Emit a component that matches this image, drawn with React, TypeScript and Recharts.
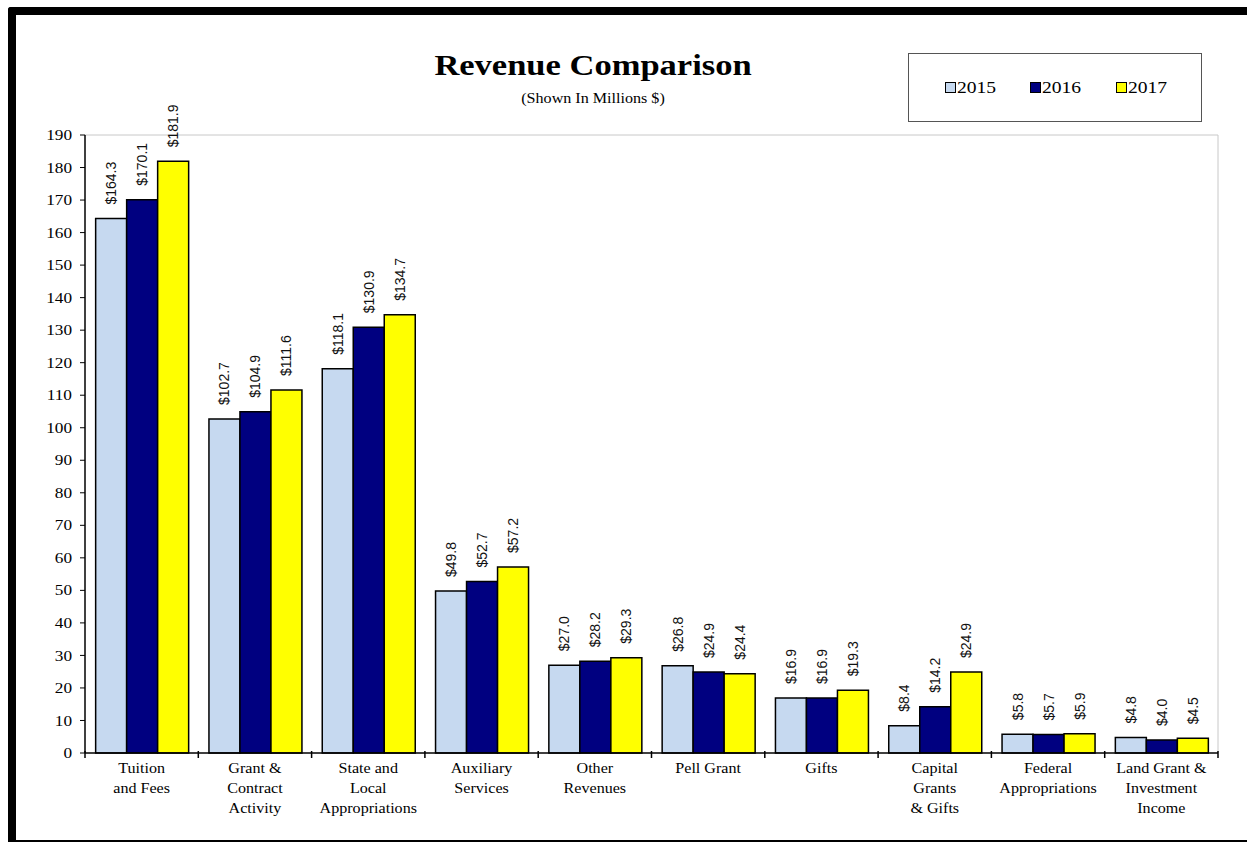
import React from 'react';
import {
  BarChart,
  Bar,
  XAxis,
  YAxis,
  CartesianGrid,
  ReferenceLine,
  LabelList,
} from 'recharts';

const CATEGORIES = [
  'Tuition\nand Fees',
  'Grant &\nContract\nActivity',
  'State and\nLocal\nAppropriations',
  'Auxiliary\nServices',
  'Other\nRevenues',
  'Pell Grant',
  'Gifts',
  'Capital\nGrants\n& Gifts',
  'Federal\nAppropriations',
  'Land Grant &\nInvestment\nIncome',
];
const Y2015 = [164.3, 102.7, 118.1, 49.8, 27.0, 26.8, 16.9, 8.4, 5.8, 4.8];
const Y2016 = [170.1, 104.9, 130.9, 52.7, 28.2, 24.9, 16.9, 14.2, 5.7, 4.0];
const Y2017 = [181.9, 111.6, 134.7, 57.2, 29.3, 24.4, 19.3, 24.9, 5.9, 4.5];
const Y_TICKS = [0, 10, 20, 30, 40, 50, 60, 70, 80, 90, 100, 110, 120, 130, 140, 150, 160, 170, 180, 190];

const SERIES = [
  { key: 'y2015', name: '2015', color: '#C6D9F0' },
  { key: 'y2016', name: '2016', color: '#000080' },
  { key: 'y2017', name: '2017', color: '#FFFF00' },
];

const data = CATEGORIES.map((name, i) => ({
  name,
  y2015: Y2015[i],
  y2016: Y2016[i],
  y2017: Y2017[i],
}));

const SERIF = '"Liberation Serif", "Times New Roman", serif';
const SANS = '"Liberation Sans", Arial, sans-serif';
// the reference is a little wider than tall, so the serif text is stretched sideways
const STRETCH = 1.15;

const CategoryTick = (props: any) => {
  const { x, y, payload, index, width, visibleTicksCount } = props;
  const lines = String(payload.value).split('\n');
  const band = Number(width) / Number(visibleTicksCount || CATEGORIES.length);
  const half = Number.isFinite(band) ? band / 2 : 0;
  return (
    <g>
      {half > 0 && (
        <line x1={x - half} x2={x - half} y1={y - 2} y2={y + 5} stroke="#000" strokeWidth={1.5} />
      )}
      {half > 0 && index === visibleTicksCount - 1 && (
        <line x1={x + half} x2={x + half} y1={y - 2} y2={y + 5} stroke="#000" strokeWidth={1.5} />
      )}
      <g transform={`translate(${x} ${y + 20}) scale(${STRETCH} 1)`}>
        <text x={0} y={0} textAnchor="middle" fontFamily={SERIF} fontSize={14} fill="#000">
          {lines.map((l, i) => (
            <tspan key={i} x={0} dy={i === 0 ? 0 : 20}>
              {l}
            </tspan>
          ))}
        </text>
      </g>
    </g>
  );
};

const ValueTick = (props: any) => {
  const { x, y, payload } = props;
  return (
    <g transform={`translate(${x} ${y}) scale(${STRETCH} 1)`}>
      <text x={0} y={0} textAnchor="end" dominantBaseline="central" fontFamily={SERIF} fontSize={15} fill="#000">
        {payload.value}
      </text>
    </g>
  );
};

const ValueLabel = (props: any) => {
  const { x, y, width, value } = props;
  const cx = x + width / 2;
  const cy = y - 14;
  return (
    <text
      x={cx}
      y={cy}
      transform={`rotate(-90 ${cx} ${cy})`}
      textAnchor="start"
      dominantBaseline="central"
      fontFamily={SANS}
      fontSize={14}
      fill="#111"
    >
      {`$${Number(value).toFixed(1)}`}
    </text>
  );
};

const App: React.FC = () => {
  return (
    <div
      style={{
        position: 'absolute',
        left: 0,
        top: 0,
        width: 1247,
        height: 842,
        background: '#fff',
        overflow: 'hidden',
      }}
    >
      {/* frame */}
      <div style={{ position: 'absolute', left: 8, top: 7, width: 8, height: 835, background: '#000', borderTopLeftRadius: 3 }} />
      <div style={{ position: 'absolute', left: 8, top: 7, width: 1239, height: 8, background: '#000', borderTopLeftRadius: 3 }} />
      <div style={{ position: 'absolute', left: 8, top: 840, width: 1239, height: 2, background: '#000' }} />

      <div
        style={{
          position: 'absolute',
          left: 393,
          width: 400,
          top: 50,
          lineHeight: '30px',
          textAlign: 'center',
          fontFamily: SERIF,
          fontWeight: 'bold',
          fontSize: 30,
          color: '#000',
          transform: `scaleX(${STRETCH})`,
        }}
      >
        Revenue Comparison
      </div>
      <div
        style={{
          position: 'absolute',
          left: 393,
          width: 400,
          top: 92,
          lineHeight: '14px',
          textAlign: 'center',
          fontFamily: SERIF,
          fontSize: 14,
          color: '#000',
          transform: `scaleX(${STRETCH})`,
        }}
      >
        (Shown In Millions $)
      </div>

      {/* legend */}
      <div
        style={{
          position: 'absolute',
          left: 908,
          top: 53,
          width: 294,
          height: 69,
          border: '1px solid #555',
          boxSizing: 'border-box',
          display: 'flex',
          alignItems: 'center',
          paddingLeft: 36,
          fontFamily: SERIF,
          fontSize: 17,
          color: '#000',
        }}
      >
        {SERIES.map((s) => (
          <div key={s.key} style={{ display: 'flex', alignItems: 'center', width: 88 }}>
            <span
              style={{
                display: 'inline-block',
                width: 9,
                height: 9,
                background: s.color,
                border: '1px solid #000',
                marginRight: 1,
              }}
            />
            <span style={{ display: 'inline-block', transform: `scaleX(${STRETCH})`, transformOrigin: 'left center' }}>
              {s.name}
            </span>
          </div>
        ))}
      </div>

      <div style={{ position: 'absolute', left: 0, top: 0 }}>
        <BarChart
          width={1247}
          height={842}
          data={data}
          margin={{ top: 135, right: 29, left: 0, bottom: 0 }}
          barCategoryGap="9.4%"
          barGap={0}
        >
          {/* plot frame on the right edge */}
          <CartesianGrid
            horizontal={false}
            stroke="#c8c8c8"
            strokeDasharray=""
            verticalCoordinatesGenerator={({ offset }: any) => [offset.left + offset.width]}
          />
          <XAxis
            dataKey="name"
            height={89}
            interval={0}
            tickLine={false}
            tickSize={0}
            tickMargin={0}
            axisLine={{ stroke: '#000', strokeWidth: 1.5 }}
            tick={<CategoryTick />}
          />
          <YAxis
            width={85}
            domain={[0, 190]}
            ticks={Y_TICKS}
            interval={0}
            tickSize={5}
            tickMargin={8}
            axisLine={{ stroke: '#000', strokeWidth: 1.5 }}
            tickLine={{ stroke: '#000' }}
            tick={<ValueTick />}
          />
          <ReferenceLine y={190} stroke="#c8c8c8" strokeWidth={1} />
          {SERIES.map((s) => (
            <Bar
              key={s.key}
              dataKey={s.key}
              name={s.name}
              fill={s.color}
              stroke="#000"
              strokeWidth={1.5}
              isAnimationActive={false}
            >
              <LabelList dataKey={s.key} content={<ValueLabel />} />
            </Bar>
          ))}
        </BarChart>
      </div>
    </div>
  );
};

export default App;
